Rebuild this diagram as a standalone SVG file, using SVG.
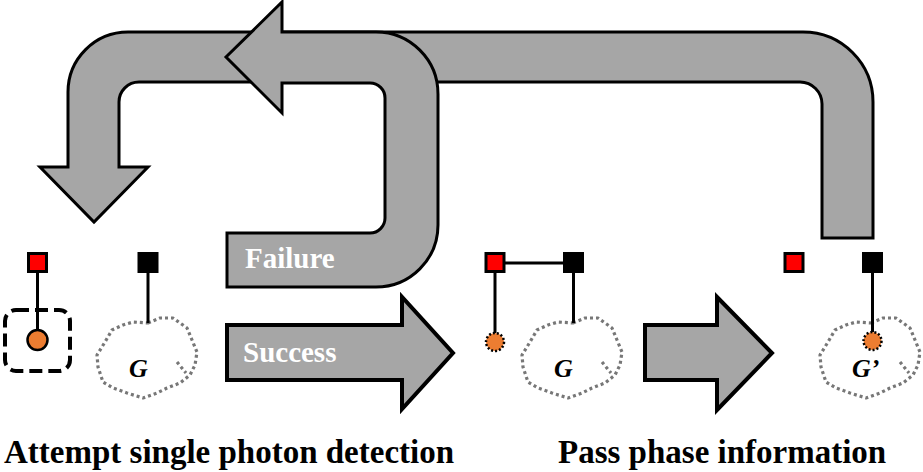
<svg xmlns="http://www.w3.org/2000/svg" width="923" height="472" viewBox="0 0 923 472">
  <style>
    .arrow { fill: #a6a6a6; stroke: #000; stroke-width: 3; stroke-linejoin: miter; }
    .arrow2 { fill: #a6a6a6; stroke: #000; stroke-width: 4; stroke-linejoin: miter; }
    .lbl { font-family: "Liberation Serif", "Times New Roman", serif; font-weight: bold; }
    .white { fill: #fff; font-size: 29px; }
    .cap { fill: #000; font-size: 33px; }
    .g { font-family: "Liberation Serif", "Times New Roman", serif; font-weight: bold; font-style: italic; font-size: 26px; fill: #000; }
    .red { fill: #ff0000; stroke: #000; stroke-width: 3; }
    .blk { fill: #000; stroke: #000; stroke-width: 3; }
    .wire { stroke: #000; stroke-width: 3; fill: none; }
    .blob { fill: none; stroke: #777; stroke-width: 3.2; stroke-dasharray: 3 3; stroke-linejoin: round; }
    .orange { fill: #ed7d31; stroke: #000; stroke-width: 2.5; }
    .orangeDot { fill: #ed7d31; stroke: #000; stroke-width: 2.5; stroke-dasharray: 2 2; }
  </style>
  <defs>
    <path id="blob" d="M0,-34 L12,-39 L25,-39 L39,-29 L44,-17 L49,-5 L47,8 L42,18 L32,26 L19,31 L9,36 L-5,41 L-21,36 L-35,31 L-45,25 L-50,10 L-51,-2 L-43,-15 L-36,-27 L-25,-32 L-15,-35 Z M29,5 L38,16"/>
  </defs>
  <rect width="923" height="472" fill="#fff"/>

  <g id="connectors">
    <path id="loop-arrow" class="arrow" d="M822,238 L873,238 L873,102 A70,70 0 0 0 803,32 L128,32 A60,60 0 0 0 68,92 L68,167 L40,167 L94,222 L148,167 L119,167 L119,102 A20,20 0 0 1 139,82 L800,82 A22,22 0 0 1 822,104 Z"/>
    <path id="failure-arrow" class="arrow" d="M226,57 L282,2 L282,32 L376,32 A62,62 0 0 1 438,94 L438,225 A62,62 0 0 1 376,287 L227,287 L227,233 L370,233 A15,15 0 0 0 385,218 L385,98 A15,15 0 0 0 370,83 L282,83 L282,113 Z"/>
    <path id="success-arrow" class="arrow2" d="M227,325 L402,325 L402,297 L453,353 L402,409 L402,380 L227,380 Z"/>
    <path id="pass-arrow" class="arrow2" d="M645,325 L717,325 L717,297 L772,353 L717,410 L717,380 L645,380 Z"/>
    <text class="lbl white" x="245" y="268">Failure</text>
    <text class="lbl white" x="243" y="362">Success</text>
  </g>

  <g id="node-left">
    <rect x="5" y="310" width="65" height="61" rx="11" fill="none" stroke="#000" stroke-width="4" stroke-dasharray="13 6"/>
    <line class="wire" x1="37.5" y1="272" x2="37.5" y2="332"/>
    <rect class="red" x="28.5" y="253.5" width="18" height="18"/>
    <circle class="orange" cx="37.5" cy="340" r="10"/>
  </g>

  <g id="node-G1">
    <use href="#blob" class="blob" x="148" y="357"/>
    <line class="wire" x1="148" y1="272" x2="148" y2="323"/>
    <rect class="blk" x="139" y="253.5" width="18" height="18"/>
    <text class="g" x="129" y="377">G</text>
  </g>

  <g id="node-middle">
    <use href="#blob" class="blob" x="573" y="357"/>
    <line class="wire" x1="505" y1="263" x2="565" y2="263"/>
    <line class="wire" x1="495" y1="272" x2="495" y2="333"/>
    <line class="wire" x1="573.5" y1="272" x2="573.5" y2="323"/>
    <rect class="red" x="486" y="253.5" width="18" height="18"/>
    <rect class="blk" x="564.5" y="253.5" width="18" height="18"/>
    <circle class="orangeDot" cx="495" cy="342" r="9"/>
    <text class="g" x="554" y="377">G</text>
  </g>

  <g id="node-right">
    <use href="#blob" class="blob" x="871" y="357"/>
    <line class="wire" x1="872.5" y1="272" x2="872.5" y2="332"/>
    <rect class="red" x="785" y="253.5" width="18" height="18"/>
    <rect class="blk" x="863.5" y="253.5" width="18" height="18"/>
    <circle class="orangeDot" cx="872.5" cy="341" r="9"/>
    <text class="g" x="852" y="377">G’</text>
  </g>

  <g id="captions">
    <text class="lbl cap" x="4" y="463">Attempt single photon detection</text>
    <text class="lbl cap" x="558" y="463">Pass phase information</text>
  </g>
</svg>
